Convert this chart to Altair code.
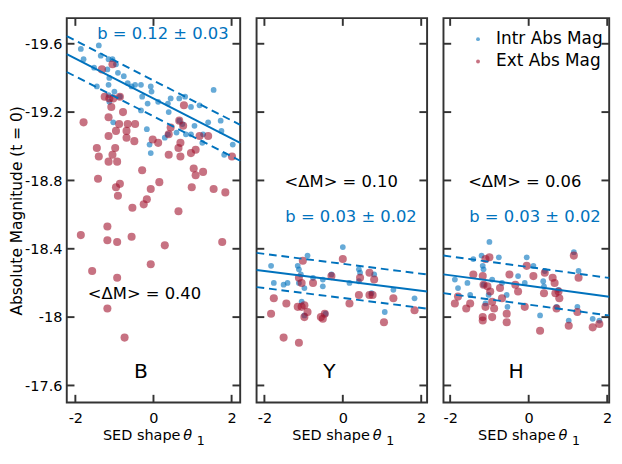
import altair as alt
import pandas as pd

# ---------------- data ----------------
b_intr_x = [-1.86,-1.79,-1.40,-1.35,-1.52,-1.45,-1.15,-1.05,-1.18,-0.96,-0.91,-1.13,-1.15,-1.00,-1.15,-1.13,-0.86,-0.76,-0.66,-0.56,-0.47,-0.32,-0.07,-0.05,-0.29,-0.15,0.12,0.37,0.39,-0.32,0.44,0.66,0.81,0.96,1.18,0.66,0.74,0.83,1.05,1.27,1.40,1.54,1.72,0.96,0.29,-0.10,-1.03,-0.17,0.37,0.59,1.25,1.74,2.03,1.81,-0.07]
b_intr_y = [-19.57,-19.51,-19.59,-19.53,-19.46,-19.35,-19.51,-19.51,-19.45,-19.48,-19.43,-19.40,-19.36,-19.32,-19.30,-19.26,-19.29,-19.41,-19.37,-19.35,-19.36,-19.36,-19.35,-19.32,-19.29,-19.25,-19.26,-19.25,-19.20,-19.21,-19.28,-19.28,-19.29,-19.23,-19.24,-19.15,-19.13,-19.07,-19.12,-19.07,-19.14,-19.33,-19.15,-19.07,-19.05,-19.01,-19.14,-19.10,-19.07,-19.08,-19.02,-19.09,-19.01,-18.95,-18.96]
b_ext_x = [-1.32,-1.05,-1.25,-1.13,-1.03,-0.86,-1.08,-1.15,-0.78,-1.79,-0.88,-0.66,-0.47,0.78,0.44,0.76,0.66,1.18,-0.96,-0.69,-1.15,-0.69,-0.49,-0.02,0.12,0.39,0.69,0.64,-1.45,-0.98,-1.40,-1.05,-1.15,-0.93,0.39,0.69,0.96,1.08,1.40,2.01,-0.29,1.03,1.27,1.08,-1.42,-0.86,-0.96,-0.91,0.15,-0.07,0.98,1.54,1.84,-0.17,-0.25,-0.54,0.64,-1.18,-1.86,-1.18,-0.93,-0.56,0.29,1.76,-1.57,-0.07,-0.93,-1.18,-0.74]
b_ext_y = [-19.45,-19.48,-19.29,-19.28,-19.28,-19.29,-19.23,-19.17,-19.20,-19.14,-19.13,-19.13,-19.13,-19.24,-19.11,-19.12,-19.15,-19.06,-19.09,-19.09,-19.06,-19.05,-19.03,-19.04,-19.02,-19.07,-19.02,-18.99,-18.99,-18.99,-18.94,-18.95,-18.91,-18.91,-18.95,-18.94,-18.96,-18.98,-19.06,-18.94,-18.86,-18.87,-18.85,-18.83,-18.81,-18.78,-18.76,-18.71,-18.79,-18.75,-18.76,-18.75,-18.73,-18.69,-18.66,-18.64,-18.62,-18.53,-18.48,-18.45,-18.44,-18.47,-18.42,-18.44,-18.27,-18.31,-18.23,-18.05,-17.88]

y_intr_x = [-1.83,-1.76,-1.51,-1.41,-1.15,-1.12,-0.90,-1.07,-1.12,-0.98,-1.05,-0.76,-0.51,-0.51,-0.29,-0.44,0.00,0.17,0.41,0.44,0.41,0.80,0.73,1.29,1.07,1.83,-0.98]
y_intr_y = [-18.30,-18.20,-18.19,-18.20,-18.30,-18.28,-18.36,-18.25,-18.20,-18.17,-18.09,-18.23,-18.22,-18.18,-18.25,-18.02,-18.41,-18.20,-18.28,-18.26,-18.21,-18.25,-18.14,-18.16,-18.03,-18.11,-18.01]
y_ext_x = [-1.76,-1.83,-1.44,-1.51,-1.12,-1.02,-1.12,-1.05,-1.15,-1.05,-0.98,-0.90,-0.98,-0.76,-0.29,-0.46,-0.51,-0.56,0.00,0.17,0.44,0.41,0.68,0.68,0.76,0.80,1.05,1.29,1.83]
y_ext_y = [-18.11,-18.02,-18.08,-17.88,-17.85,-18.33,-18.23,-18.20,-18.06,-18.06,-18.07,-18.03,-18.00,-18.20,-18.24,-18.02,-17.99,-18.00,-18.34,-18.08,-18.23,-18.13,-18.26,-18.13,-18.13,-18.22,-17.97,-18.11,-18.04]

h_intr_x = [-1.00,-1.88,-1.80,-1.56,-1.49,-1.41,-1.20,-1.17,-1.15,-0.93,-1.15,-1.02,-1.10,-0.76,-0.68,-0.56,-0.54,-0.27,-0.10,-0.05,0.12,0.41,0.37,0.39,0.76,0.71,0.29,1.15,1.27,1.24,1.02,1.63,1.80]
h_intr_y = [-18.44,-18.22,-18.17,-18.20,-18.13,-18.34,-18.36,-18.30,-18.28,-18.22,-18.19,-18.13,-18.08,-18.35,-18.20,-18.13,-18.06,-18.24,-18.20,-18.35,-18.30,-18.27,-18.21,-18.18,-18.16,-18.06,-18.01,-18.38,-18.27,-18.06,-17.98,-17.99,-17.98]
h_ext_x = [-1.88,-1.80,-1.59,-1.49,-1.41,-1.17,-1.15,-1.05,-1.00,-1.10,-0.98,-0.93,-1.10,-0.88,-1.17,-1.17,-0.93,-0.73,-0.68,-0.56,-0.56,-0.49,-0.34,-0.27,-0.10,-0.05,0.12,0.41,0.39,0.29,0.61,0.66,0.68,0.76,0.78,0.71,1.15,1.27,1.24,1.02,1.63,1.80]
h_ext_y = [-18.08,-18.12,-18.05,-18.08,-18.25,-18.24,-18.19,-18.18,-18.35,-18.34,-18.15,-18.09,-18.06,-18.05,-18.00,-17.98,-18.00,-18.17,-18.11,-18.02,-17.97,-18.25,-18.19,-18.15,-18.06,-18.30,-18.24,-18.26,-18.14,-17.92,-18.23,-18.20,-18.14,-18.15,-18.11,-18.05,-18.36,-18.23,-18.03,-17.95,-17.94,-17.96]

panel_letters = ["B", "Y", "H"]
fit_intercept = [-19.28, -18.212, -18.183]
fit_slope = [0.117, 0.029, 0.031]
fit_band = [0.105, 0.10, 0.11]
dm_labels = ["<\u0394M> = 0.40", "<\u0394M> = 0.10", "<\u0394M> = 0.06"]
b_labels = ["b = 0.12 \u00b1 0.03", "b = 0.03 \u00b1 0.02", "b = 0.03 \u00b1 0.02"]
legend_labels = ["Intr Abs Mag", "Ext Abs Mag"]
x_title_parts = ["SED shape", "\u03b8", "1"]
y_title = "Absolute Magnitude (t = 0)"
x_ticks = [-2, 0, 2]
y_ticks = [-19.6, -19.2, -18.8, -18.4, -18, -17.6]

# ---------------- style ----------------
BLUE = "#0072BD"
RED = "#A2142F"
FRAME = "#333333"
FONT = "DejaVu Sans"
Y_DOM = [-19.75, -17.5]
X_DOMS = [[-2.22, 2.22], [-2.2, 2.15], [-2.17, 2.05]]
WIDTHS = [180, 177, 172]
H = 399

# annotation anchors (data coordinates)
dm_pos = [(-0.23, -18.105), (-0.04, -18.759), (-0.10, -18.759)]
b_pos = [(0.24, -19.627), (0.21, -18.556), (0.16, -18.556)]
letter_pos = [(-0.32, -17.644), (-0.34, -17.644), (-0.32, -17.644)]

sets = [(b_intr_x, b_intr_y, b_ext_x, b_ext_y),
        (y_intr_x, y_intr_y, y_ext_x, y_ext_y),
        (h_intr_x, h_intr_y, h_ext_x, h_ext_y)]


def panel(i):
    ix, iy, ex, ey = sets[i]
    W = WIDTHS[i]
    xs = alt.Scale(domain=X_DOMS[i], nice=False, zero=False)
    ys = alt.Scale(domain=Y_DOM, reverse=True, nice=False, zero=False)
    xaxis = alt.Axis(values=x_ticks, title="", labelExpr="'' + datum.value",
                     ticks=False, domain=False, grid=False, labelPadding=9, titlePadding=0,
                     labelFontSize=15, labelFlush=False, labelOverlap=False)
    if i == 0:
        yaxis = alt.Axis(values=y_ticks, title=y_title, labelExpr="'' + datum.value",
                         ticks=False, domain=False, grid=False, labelPadding=5, titlePadding=0,
                         labelFontSize=15, titleFontSize=16, labelFlush=False, labelOverlap=False)
    else:
        yaxis = None

    def X(field):
        return alt.X(field, scale=xs, axis=None)

    def Y(field):
        return alt.Y(field, scale=ys, axis=None)

    def text_layer(txt, x, y, color, size, align="center", baseline="alphabetic"):
        return alt.Chart(pd.DataFrame({"t": [txt]})).mark_text(
            color=color, fontSize=size, font=FONT, align=align, baseline=baseline
        ).encode(x=alt.XDatum(x, axis=None), y=alt.YDatum(y, axis=None), text="t:N")

    def xtitle_layer(txt, dx, dy, size, align, style="normal"):
        return alt.Chart(pd.DataFrame({"t": [txt]})).mark_text(
            color="black", fontSize=size, font=FONT, align=align, baseline="alphabetic",
            fontStyle=style, dx=dx
        ).encode(x=alt.XDatum(0, axis=None), y=alt.value(H + dy), text="t:N")

    intr = pd.DataFrame({"x": ix, "y": iy})
    ext = pd.DataFrame({"x": ex, "y": ey})
    p_intr = alt.Chart(intr).mark_circle(color=BLUE, opacity=0.6, size=36).encode(
        x=alt.X("x:Q", scale=xs, axis=xaxis), y=alt.Y("y:Q", scale=ys, axis=yaxis))
    p_ext = alt.Chart(ext).mark_circle(color=RED, opacity=0.6, size=70).encode(x=X("x:Q"), y=Y("y:Q"))

    rows = []
    for k in (-1, 0, 1):
        for xv in X_DOMS[i]:
            rows.append({"k": k, "x": xv,
                         "y": fit_intercept[i] + fit_slope[i] * xv + k * fit_band[i]})
    ldf = pd.DataFrame(rows)
    solid = alt.Chart(ldf[ldf.k == 0]).mark_line(color=BLUE, strokeWidth=2).encode(x=X("x:Q"), y=Y("y:Q"))
    dashed = alt.Chart(ldf[ldf.k != 0]).mark_line(color=BLUE, strokeWidth=2, strokeDash=[8, 5]).encode(
        x=X("x:Q"), y=Y("y:Q"), detail="k:N")

    xt = alt.Chart(pd.DataFrame({"v": x_ticks}))
    yt = alt.Chart(pd.DataFrame({"v": y_ticks}))
    tk = dict(color=FRAME, strokeWidth=2)
    t_top = xt.mark_rule(**tk).encode(x=X("v:Q"), y=alt.value(0), y2=alt.value(8))
    t_bot = xt.mark_rule(**tk).encode(x=X("v:Q"), y=alt.value(H - 8), y2=alt.value(H))
    t_left = yt.mark_rule(**tk).encode(y=Y("v:Q"), x=alt.value(0), x2=alt.value(8))
    t_right = yt.mark_rule(**tk).encode(y=Y("v:Q"), x=alt.value(W - 8), x2=alt.value(W))

    layers = [p_intr, p_ext, solid, dashed, t_top, t_bot, t_left, t_right,
              text_layer(dm_labels[i], *dm_pos[i], "black", 17),
              text_layer(b_labels[i], *b_pos[i], BLUE, 17),
              text_layer(panel_letters[i], *letter_pos[i], "black", 21),
              xtitle_layer(x_title_parts[0], 28, 39, 15, "right"),
              xtitle_layer(x_title_parts[1], 31, 39, 15, "left", "italic"),
              xtitle_layer(x_title_parts[2], 45, 44, 13, "left")]

    if i == 2:
        ly = [-19.627, -19.496]
        cols = [BLUE, RED]
        for j in range(2):
            layers.append(alt.Chart(pd.DataFrame({"lab": [legend_labels[j]]})).mark_circle(
                size=16, opacity=0.6, color=cols[j]).encode(
                x=alt.XDatum(-1.29, axis=None), y=alt.YDatum(ly[j], axis=None)))
            layers.append(text_layer(legend_labels[j], -0.83, ly[j], "black", 17.5, align="left",
                                     baseline="middle"))

    return alt.layer(*layers).resolve_axis(x="independent", y="independent").properties(width=W, height=H)


chart = alt.hconcat(panel(0), panel(1), panel(2), spacing=7).properties(
    padding={"left": 0, "top": 0, "right": 0, "bottom": 0}
).configure_view(stroke=FRAME, strokeWidth=2).configure_axis(
    labelFont=FONT, titleFont=FONT, labelColor="black", titleColor="black", titleFontWeight="normal"
)

chart.save("out.html", embed_options={"renderer": "svg", "actions": False})
